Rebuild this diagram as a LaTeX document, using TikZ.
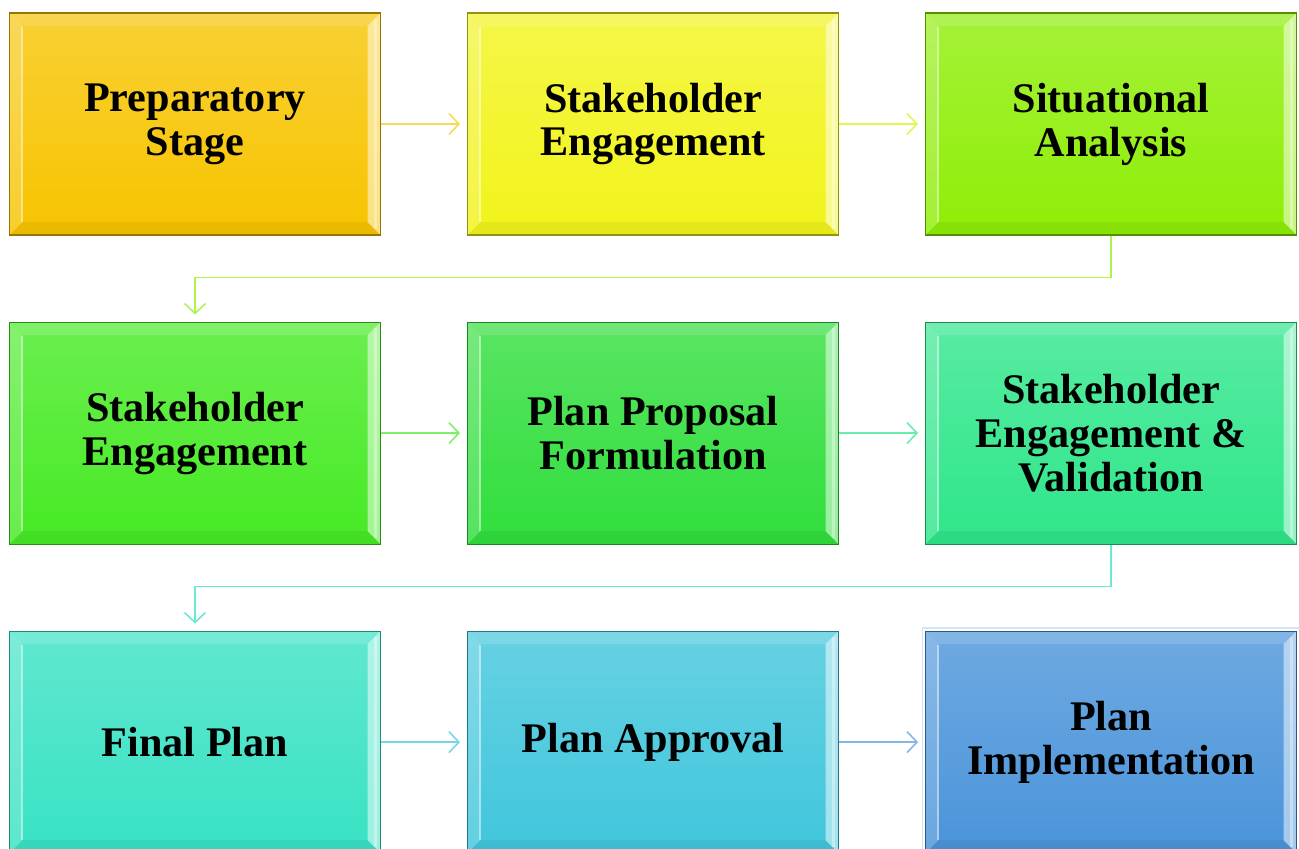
\documentclass[tikz,border=0pt]{standalone}
\usepackage{fontspec}
\setmainfont{Liberation Serif}
\usepackage{tikz}
\usetikzlibrary{positioning, arrows.meta}
\usepackage[]{xcolor}
\definecolor{gold}{HTML}{F7C400}
\definecolor{lemon}{HTML}{F2F41A}
\definecolor{lime}{HTML}{8EEE06}
\definecolor{leaf}{HTML}{46EA24}
\definecolor{grass}{HTML}{30DE3C}
\definecolor{mint}{HTML}{2EE68A}
\definecolor{aqua}{HTML}{38E2C4}
\definecolor{sky}{HTML}{40C6DC}
\definecolor{ocean}{HTML}{4A94DA}
\newcommand{\stagefont}{\bfseries\fontsize{24}{25}\selectfont}
\newcommand{\bevel}{%
	\fill[white, opacity=.18] (path picture bounding box.north west) -- (path picture bounding box.south west) -- ([shift={(.26,.26)}]path picture bounding box.south west) -- ([shift={(.26,-.26)}]path picture bounding box.north west) -- cycle;
	\fill[white, opacity=.5] (path picture bounding box.north east) -- (path picture bounding box.south east) -- ([shift={(-.26,.26)}]path picture bounding box.south east) -- ([shift={(-.26,-.26)}]path picture bounding box.north east) -- cycle;
	\fill[white, opacity=.14] (path picture bounding box.north west) -- (path picture bounding box.north east) -- ([shift={(-.26,-.26)}]path picture bounding box.north east) -- ([shift={(.26,-.26)}]path picture bounding box.north west) -- cycle;
	\fill[black, opacity=.05] (path picture bounding box.south west) -- (path picture bounding box.south east) -- ([shift={(-.26,.26)}]path picture bounding box.south east) -- ([shift={(.26,.26)}]path picture bounding box.south west) -- cycle;
	\draw[white, opacity=.45, line width=1.4pt] ([shift={(.25,-.27)}]path picture bounding box.north west) -- ([shift={(.25,.27)}]path picture bounding box.south west);
	\draw[white, opacity=.35, line width=1.4pt] ([shift={(-.1,-.12)}]path picture bounding box.north east) -- ([shift={(-.1,.12)}]path picture bounding box.south east);
}
\tikzset{
	stagebox/.style={rectangle, draw=#1!60!black, line width=0.6pt, top color=#1!80!white, bottom color=#1, minimum width=7.42cm, minimum height=4.44cm, align=center, font=\stagefont, path picture={\bevel}},
	flow/.style={draw=#1, line width=0.9pt, shorten >=0.14cm, -{Straight Barb[length=0.2cm,width=0.42cm]}},
	picked/.style={draw=ocean!25, line width=1pt}
	}

\begin{document}
\begin{tikzpicture}[node distance = 1.72cm]
	\clip (-3.9,2.48) rectangle (22.08,-14.48);
	\node [stagebox=gold] (s1) {Preparatory\\ Stage};
	\node [stagebox=lemon, right=of s1] (s2) {Stakeholder\\ Engagement};
	\node [stagebox=lime, right=of s2] (s3) {Situational\\ Analysis};
	\node [stagebox=leaf, below=of s1] (s4) {Stakeholder\\ Engagement};
	\node [stagebox=grass, right=of s4] (s5) {Plan Proposal\\ Formulation};
	\node [stagebox=mint, right=of s5] (s6) {Stakeholder\\ Engagement \&\\ Validation};
	\node [stagebox=aqua, below=of s4] (s7) {Final Plan};
	\node [stagebox=sky, right=of s7] (s8) {Plan Approval};
	\node [stagebox=ocean, right=of s8] (s9) {Plan\\ Implementation};
	\draw[picked] ([shift={(-.05,.05)}]s9.north west) rectangle ([shift={(.05,-.05)}]s9.south east);

	\draw[flow=gold!65!white] (s1) -- (s2);
	\draw[flow=lemon!75!lime!75!white] (s2) -- (s3);
	\draw[flow=lime!70!white] (s3.south) -- ++(0,-0.84) -| (s4.north);
	\draw[flow=leaf!70!white] (s4) -- (s5);
	\draw[flow=mint!72!white] (s5) -- (s6);
	\draw[flow=aqua!75!white] (s6.south) -- ++(0,-0.84) -| (s7.north);
	\draw[flow=sky!72!white] (s7) -- (s8);
	\draw[flow=ocean!68!white] (s8) -- (s9);
\end{tikzpicture}
\end{document}
